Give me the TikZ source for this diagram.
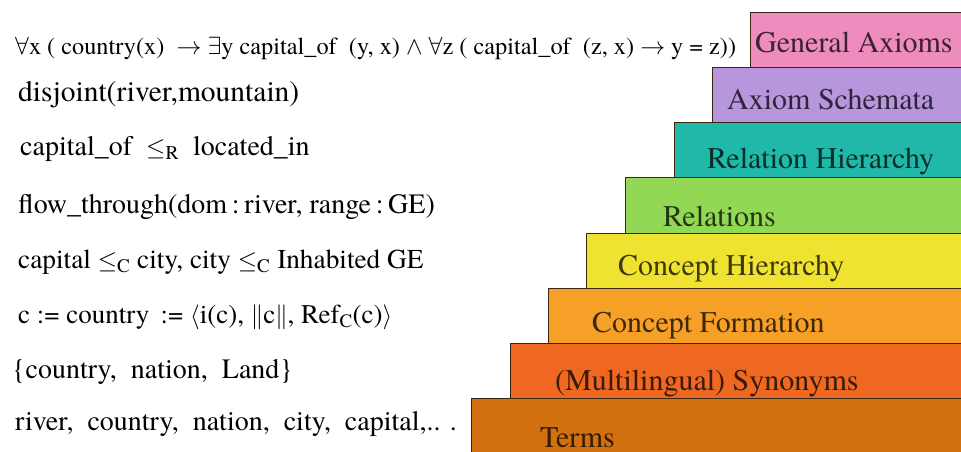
\documentclass[tikz,border=0pt]{standalone}
\usepackage{fontspec}
\setmainfont{texgyretermes}[Extension=.otf, UprightFont=*-regular, BoldFont=*-bold, ItalicFont=*-italic, BoldItalicFont=*-bolditalic]
\definecolor{cGA}{RGB}{238,140,190}
\definecolor{cAS}{RGB}{184,150,222}
\definecolor{cRH}{RGB}{32,184,168}
\definecolor{cRE}{RGB}{146,216,84}
\definecolor{cCH}{RGB}{240,226,48}
\definecolor{cCF}{RGB}{246,160,40}
\definecolor{cSY}{RGB}{238,104,34}
\definecolor{cTE}{RGB}{210,112,16}
\tikzset{
  layerbox/.style={draw=black!70!brown, line width=0.8pt},
  layerlabel/.style={anchor=base west, inner sep=0pt, font=\fontsize{30}{32}\selectfont},
  lefttext/.style={anchor=base west, inner sep=0pt, font=\fontsize{28}{30}\selectfont},
}
\begin{document}
\begin{tikzpicture}[x=1pt,y=-1pt]
\useasboundingbox (0,0) rectangle (961,452);
\clip (0,0) rectangle (961,452);
% layers (bottom to top)
\path[layerbox, fill=cGA] (750,12) rectangle (975,67);
\path[layerbox, fill=cAS] (712,67) rectangle (975,122);
\path[layerbox, fill=cRH] (674,122) rectangle (975,177);
\path[layerbox, fill=cRE] (625,177) rectangle (975,233);
\path[layerbox, fill=cCH] (586,233) rectangle (975,288);
\path[layerbox, fill=cCF] (548,288) rectangle (975,343);
\path[layerbox, fill=cSY] (510,343) rectangle (975,398);
\path[layerbox, fill=cTE] (471,398) rectangle (975,460);
% layer labels
\node[layerlabel, text=cGA!25!black] (lGA) at (755,53) {General Axioms};
\node[layerlabel, text=cAS!25!black] (lAS) at (727,110) {Axiom Schemata};
\node[layerlabel, text=cRH!25!black] (lRH) at (707,168) {Relation Hierarchy};
\node[layerlabel, text=cRE!25!black] (lRE) at (663,226) {Relations};
\node[layerlabel, text=cCH!25!black] (lCH) at (618,275) {Concept Hierarchy};
\node[layerlabel, text=cCF!25!black] (lCF) at (592,332) {Concept Formation};
\node[layerlabel, text=cSY!25!black] (lSY) at (555,390) {(Multilingual) Synonyms};
\node[layerlabel, text=cTE!25!black] (lTE) at (540,447) {Terms};
% left texts
\node[lefttext, font=\fontsize{24.3}{26}\selectfont] (t1) at (15,55)
  {$\forall$x ( country(x) \ $\rightarrow$ $\exists$y capital\_of \ (y, x) $\wedge$ $\forall$z ( capital\_of \ (z, x) $\rightarrow$ y = z))};
\node[lefttext, font=\fontsize{29.5}{31}\selectfont] (t2) at (18,101) {disjoint(river,mountain)};
\node[lefttext] (t3) at (20,155) {capital\_of \ $\leq_{\mathrm{R}}$ \ located\_in};
\node[lefttext] (t4) at (18,213) {flow\_through(dom\,:\,river, range\,:\,GE)};
\node[lefttext, font=\fontsize{27.3}{29}\selectfont] (t5) at (18,268) {capital $\leq_{\mathrm{C}}$ city, city $\leq_{\mathrm{C}}$ Inhabited GE};
\node[lefttext, font=\fontsize{27}{29}\selectfont] (t6) at (18,323) {c := country \,:= $\langle$i(c), $\|$c$\|$, Ref$_{\mathrm{C}}$(c)$\rangle$};
\node[lefttext] (t7) at (12,378) {\{country, \ nation, \ Land\}};
\node[lefttext] (t8) at (15,430) {river, \ country, \ nation, \ city, \ capital,.. .};
\end{tikzpicture}
\end{document}
